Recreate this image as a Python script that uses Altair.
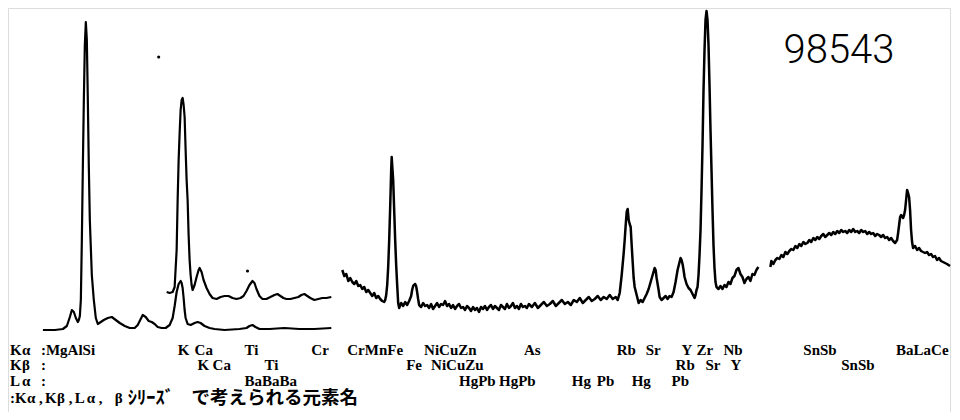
import altair as alt
import pandas as pd

# ---- spectrum traces (channel, counts) ----
low_ch = [43,55,63,67,70,72,74,76,78,79,80,81,82,83,84,85,86,87,88,89,90,92,94,96,98,101,104,108,112,116,120,125,130,135,138,141,143,146,149,152,155,158,162,166,170,173,175,177,179,181,182,183,184,185,186,188,191,195,198,201,205,210,215,225,240,247,250,253,256,260,270,285,300,315,332]
low_ct = [82,82,83,86,95,102,100,94,90,92,96,112,172,245,312,367,390,372,312,245,192,137,112,94,88,90,92,94,95,92,89,86,84,84,87,93,97,95,91,90,88,85,84,84,87,94,106,120,128,131,129,124,114,102,94,88,87,89,90,89,86,84,83,82,83,84,86,87,85,83,83,84,83,83,84]

up_ch = [167,170,173,175,177,178,179,180,181,182,183,184,185,186,187,188,189,190,191,192,193,195,197,199,200,202,204,207,210,213,217,221,225,229,233,237,241,244,247,250,253,255,257,260,263,267,271,275,278,281,284,287,291,295,299,302,305,308,311,315,319,323,327,332]
up_ct = [120,119,120,125,162,212,252,279,302,312,314,307,295,262,232,212,177,152,137,127,122,127,135,142,144,140,132,124,118,114,113,115,116,116,114,113,114,116,121,127,131,129,123,116,113,113,115,117,118,116,114,113,113,114,115,117,118,116,114,112,113,114,114,115]

mid_a_ch = [343,345,347,349,351,353,355,357,359,361,363,365,367,369,371,373,375,377,379,381,383,385,386,387,388,389,390,391,392,392.5,393,394,395,396,397,398,399,400,402,404,406,408,410,412,413,414,416,417,418,419]
mid_a_ct = [142,136,138,131,134,130,128,131,126,127,123,125,120,122,119,116,119,114,116,113,111,110,112,117,127,145,172,205,242,255,247,232,202,172,147,127,109,104,109,106,110,107,111,116,122,126,128,126,120,113]

mid_b_ch = [420,422,424,426,428,430,432,434,436,438,440,442,444,446,448,450,452,454,456,458,460,462,464,466,468,470,472,474,476,478,480,482,484,486,488,490,492,494,496,498,500,502,504,506,508,510,512,514,516,518,520,522,524,526,528,530,
            533,536,539,542,545,548,551,554,557,560,563,566,569,572,575,578,581,584,587,590,593,596,599,602,605,608,611,614,617]
mid_b_ct = [107,105,109,106,107,104,108,103,106,109,105,108,107,111,106,108,104,107,103,106,108,104,105,102,106,104,101,105,102,104,100,105,103,106,102,105,107,103,106,104,102,107,105,103,108,104,106,109,104,106,103,108,105,106,104,108,
            105,109,104,107,110,106,108,111,106,109,112,108,110,107,112,110,114,109,112,115,111,113,116,112,115,113,117,113,115]

mid_c_ch = [619,621,623,625,626,627,628,629,630,631,632,633,634,635,636,638,640,642,644,646,648,650,652,654,656,657,658,660,661,663,665,667,669,671,673,675,677,679,681,682,683,684,685,686,688,690,692,694,696,697,698,699,700,701,702,703,704,705,706,707,708,709,710,711,712,713,714,715,716,717,718,720,722,724,726,728,730,732,734,736,738,740,742,744,746,748,750,752,754,756,758,760]
mid_c_ct = [112,119,137,159,172,187,200,203,192,188,185,167,150,134,125,117,109,112,110,114,118,123,130,137,144,142,134,122,115,112,114,116,113,116,115,120,130,142,150,154,152,148,142,135,128,124,122,118,114,117,122,125,137,157,182,222,267,322,362,392,401,392,367,327,282,242,202,167,144,130,125,123,126,123,127,125,130,128,134,136,142,144,138,135,129,133,135,131,138,137,142,145]

hi_ch = [772,773,775,777,779,781,783,785,787,789,791,793,795,797,799,801,803,805,807,809,811,813,815,817,819,821,823,825,827,829,831,833,835,837,839,841,843,845,847,849,851,853,855,857,859,861,863,865,867,869,871,873,875,877,879,881,883,885,887,889,891,893,895,897,899,900,901,902,903,905,906,907,908,909,910,911,912,913,914,915,917,919,921,923,925,927,929,931,933,935,937,939,941,943,945,947,949,952]
hi_ct = [145,151,148,152,154,153,157,155,160,158,161,163,162,166,164,168,166,170,168,169,172,170,174,172,175,173,176,178,175,177,179,177,180,178,181,179,182,180,181,179,182,180,183,180,181,179,182,180,181,178,180,178,179,176,178,177,175,177,174,175,172,174,171,169,
         172,179,187,195,197,194,197,202,212,222,219,215,202,182,170,
         164,166,162,164,161,160,159,160,157,158,155,156,152,154,151,150,149,148,146]

# ---- element labels: (text, channel) per row ----
row1_txt = ["K", "α", ":MgAlSi", "K", "Ca", "Ti", "Cr", "CrMnFe", "NiCuZn", "As", "Rb", "Sr", "Y", "Zr", "Nb", "SnSb", "BaLaCe"]
row1_ch = [10, 22, 41, 178, 195, 245, 312, 348, 425, 525, 618, 647, 683, 698, 725, 805, 898]
row2_txt = ["K", "β", ":", "K", "Ca", "Ti", "Fe", "NiCuZu", "Rb", "Sr", "Y", "SnSb"]
row2_ch = [10, 22, 41, 198, 213, 265, 407, 432, 677, 707, 732, 843]
row3_txt = ["L", "α", ":", "BaBaBa", "HgPb", "HgPb", "Hg", "Pb", "Hg", "Pb"]
row3_ch = [10, 22, 41, 245, 460, 500, 573, 598, 633, 673]
row4_txt = [":", "K", "α", ",", "K", "β", ",", "L", "α", ",", "β"]
row4_ch = [10, 15, 27, 39, 45, 57, 69, 75, 87, 99, 115]
note_txt = ["ｼﾘｰｽﾞ", "で考えられる元素名"]
note_ch = [128, 192]

sample_id = "98543"
dot_ch = [159, 248]
dot_ct = [355, 141]

# ---- build chart ----
def trace(name, xs, ys):
    return pd.DataFrame({"ch": xs, "counts": ys, "trace": name})

smooth = pd.concat([trace("low", low_ch, low_ct), trace("up", up_ch, up_ct)])
noisy = pd.concat([
    trace("mid", mid_a_ch + mid_b_ch + mid_c_ch, mid_a_ct + mid_b_ct + mid_c_ct),
    trace("hi", hi_ch, hi_ct),
])

xsc = alt.Scale(domain=[8, 952], nice=False, zero=False)
ysc = alt.Scale(domain=[0, 404], nice=False, zero=False)
X = alt.X("ch:Q", scale=xsc, axis=None)
Y = alt.Y("counts:Q", scale=ysc, axis=None)

l1 = alt.Chart(smooth).mark_line(color="black", strokeWidth=2.2, strokeJoin="round").encode(
    x=X, y=Y, detail="trace:N", order="ch:Q")
l2 = alt.Chart(noisy).mark_line(color="black", strokeWidth=2.5, strokeJoin="round").encode(
    x=X, y=Y, detail="trace:N", order="ch:Q")
dots = alt.Chart(pd.DataFrame({"ch": dot_ch, "counts": dot_ct})).mark_circle(
    color="black", size=10, opacity=1).encode(x=X, y=Y)

def row(txts, chs, ypx, font="Liberation Serif", size=15):
    d = pd.DataFrame({"label": txts, "ch": chs})
    return alt.Chart(d).mark_text(align="left", baseline="alphabetic", font=font,
                                  fontWeight="bold", fontSize=size, color="black").encode(
        x=X, y=alt.value(ypx), text="label:N")

t1 = row(row1_txt, row1_ch, 347)
t2 = row(row2_txt, row2_ch, 362)
t3 = row(row3_txt, row3_ch, 378)
t4 = row(row4_txt, row4_ch, 395)
t5 = row(note_txt, note_ch, 396, font="Noto Sans CJK JP", size=18.5)

title = alt.Chart(pd.DataFrame({"label": [sample_id]})).mark_text(
    align="center", baseline="alphabetic", font="Roboto", fontWeight=300,
    fontSize=40, color="black").encode(x=alt.value(831), y=alt.value(55), text="label:N")

chart = alt.layer(l1, l2, dots, t1, t2, t3, t4, t5, title).properties(
    width=944, height=404,
    autosize=alt.AutoSizeParams(type="fit", contains="padding"),
    padding=0,
).configure_view(stroke=None).configure(background="white")

chart.save("out.html", embed_options={"renderer": "svg", "actions": False})
